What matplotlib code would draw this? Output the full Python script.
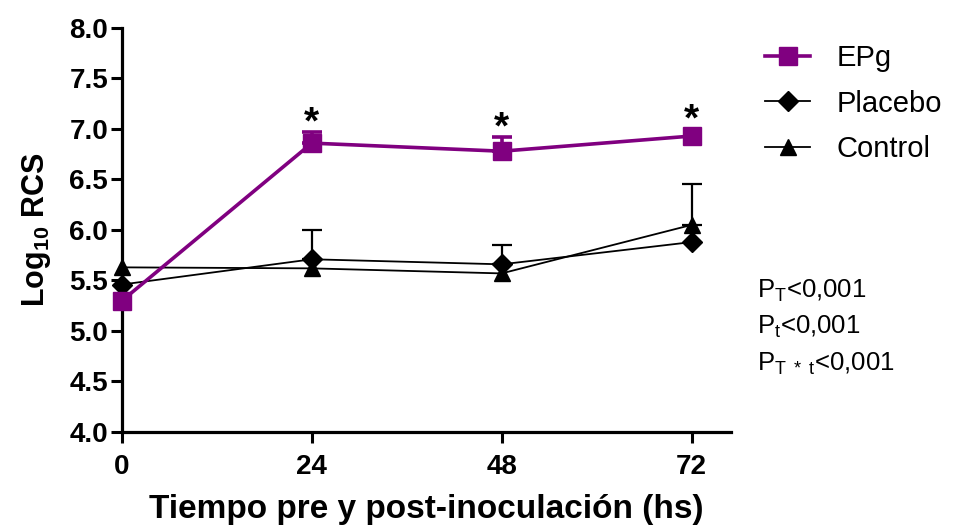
import matplotlib
matplotlib.use("Agg")
import matplotlib.pyplot as plt
from matplotlib import font_manager as fm

hours = [0, 24, 48, 72]

epg = [5.30, 6.86, 6.78, 6.93]
epg_err = [0.0, 0.11, 0.14, 0.0]

placebo = [5.46, 5.71, 5.66, 5.88]
placebo_err = [0.0, 0.29, 0.19, 0.0]

control = [5.63, 5.62, 5.57, 6.05]
control_err = [0.0, 0.0, 0.0, 0.41]

significant = [False, True, True, True]

y_ticks = [4.0, 4.5, 5.0, 5.5, 6.0, 6.5, 7.0, 7.5, 8.0]

names = {f.name for f in fm.fontManager.ttflist}
family = "Liberation Sans" if "Liberation Sans" in names else "DejaVu Sans"
plt.rcParams["font.family"] = family
plt.rcParams["mathtext.fontset"] = "custom"
plt.rcParams["mathtext.rm"] = family
plt.rcParams["mathtext.bf"] = family + ":bold"
plt.rcParams["mathtext.it"] = family + ":italic"

purple = "#800080"

fig = plt.figure(figsize=(9.56, 5.27), dpi=100)
ax = fig.add_axes([0.1276, 0.1803, 0.6371, 0.7666])

series = [
    ("Control", control, control_err, "black", "^", 11.5, 1.3, 3),
    ("Placebo", placebo, placebo_err, "black", "D", 10, 1.3, 4),
    ("EPg", epg, epg_err, purple, "s", 12.5, 2.6, 5),
]

handles = {}
for name, vals, errs, col, mk, ms, lw, z in series:
    # upper error bars only where a spread is reported
    ex = [h for h, e in zip(hours, errs) if e > 0]
    ey = [v for v, e in zip(vals, errs) if e > 0]
    ee = [e for e in errs if e > 0]
    if ex:
        eb = ax.errorbar(ex, ey, yerr=[[0] * len(ee), ee], fmt="none",
                         ecolor=col, elinewidth=max(lw, 1.6), capsize=7,
                         capthick=max(lw, 1.6), zorder=z - 0.5)
        for art in eb.lines[1] + eb.lines[2]:
            art.set_clip_on(False)
    line, = ax.plot(hours, vals, color=col, lw=lw, marker=mk, ms=ms,
                    mec=col, mfc=col, zorder=z, clip_on=False)
    handles[name] = line

for h, v, e, s in zip(hours, epg, epg_err, significant):
    if s:
        off = -7 if e > 0 else -2
        ax.annotate("*", (h, v + e), xytext=(0, off),
                    textcoords="offset points", ha="center", va="bottom",
                    fontsize=28, fontweight="bold", color="black")

ax.set_xlim(0, 77)
ax.set_ylim(4.0, 8.0)
ax.set_xticks(hours)
ax.set_yticks(y_ticks)
ax.set_yticklabels([f"{t:.1f}" for t in y_ticks])

for side in ("top", "right"):
    ax.spines[side].set_visible(False)
for side in ("left", "bottom"):
    ax.spines[side].set_linewidth(2.3)
ax.tick_params(axis="both", direction="out", length=8, width=2.2,
               labelsize=20)
ax.tick_params(axis="y", pad=2)
ax.tick_params(axis="x", pad=8)
for lab in ax.get_xticklabels() + ax.get_yticklabels():
    lab.set_fontweight("bold")

ax.set_xlabel("Tiempo pre y post-inoculación (hs)", fontsize=24,
              fontweight="bold", labelpad=10)
ax.set_ylabel(r"Log$_{\mathbf{10}}$ RCS", fontsize=22, fontweight="bold",
              labelpad=12)

order = ["EPg", "Placebo", "Control"]
fig.legend([handles[n] for n in order], order,
           loc="upper left", bbox_to_anchor=(0.779, 0.955),
           frameon=False, fontsize=21, handlelength=1.55,
           handletextpad=0.9, labelspacing=0.6, borderpad=0.2)

fig.text(0.792, 0.435, r"P$_\mathregular{T}$<0,001", fontsize=18.5)
fig.text(0.792, 0.366, r"P$_\mathregular{t}$<0,001", fontsize=18.5)
fig.text(0.792, 0.296, r"P$_\mathregular{T\ *\ t}$<0,001", fontsize=18.5)

fig.savefig("out.png", dpi=100)
